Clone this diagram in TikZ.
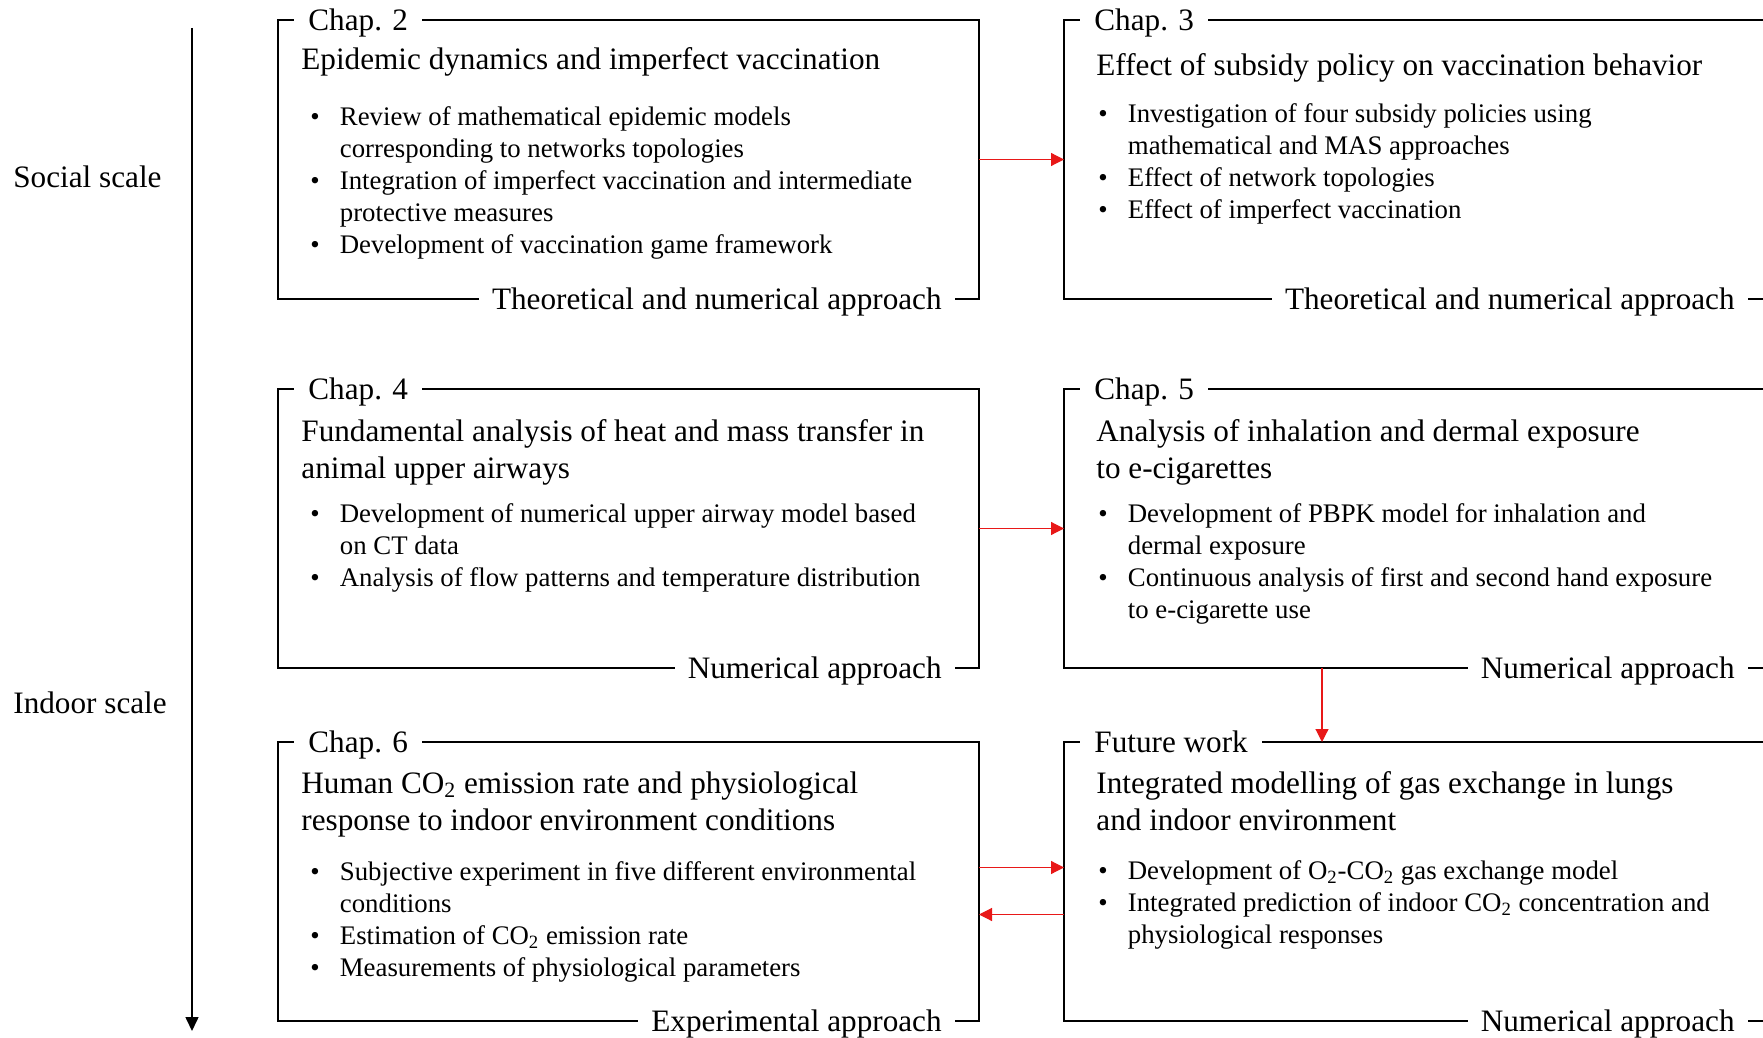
\documentclass[tikz,border=0pt]{standalone}
\usepackage{fontspec}
\setmainfont{Liberation Serif}
\usetikzlibrary{arrows.meta,positioning,calc}
\definecolor{LinkRed}{RGB}{232,24,24}

\newcommand{\bitem}{\makebox[14.75pt][l]{\textbullet}}
\newcommand{\bcont}{\hspace*{14.75pt}}

\tikzset{
  chapbox/.style={draw, line width=1pt, rectangle, anchor=north west,
    minimum height=139.5pt, inner sep=0pt, outer sep=0pt},
  chaplbl/.style={fill=white, inner xsep=7pt, inner ysep=1pt, anchor=west,
    text height=10.6pt, text depth=0pt, font=\fontsize{15.6}{18.5}\selectfont},
  applbl/.style={fill=white, inner xsep=6.5pt, inner ysep=1pt, anchor=east,
    text height=10.6pt, text depth=0pt, font=\fontsize{15.6}{18.5}\selectfont},
  boxtitle/.style={anchor=north west, inner sep=0pt, align=left,
    font=\fontsize{15.6}{18.5}\selectfont},
  bullets/.style={anchor=north west, inner sep=0pt, align=left,
    font=\fontsize{13.4}{16}\selectfont},
  scalelbl/.style={anchor=west, inner sep=0pt, font=\fontsize{15.6}{18.5}\selectfont},
  link/.style={LinkRed, line width=0.6pt, -{Triangle[length=6.5pt,width=6.5pt]}},
  axis/.style={line width=0.8pt, -{Triangle[length=7pt,width=6.5pt]}}
}

\begin{document}
\begin{tikzpicture}[x=0.5pt, y=-0.5pt]
  \path[use as bounding box, clip] (0,0) rectangle (1763,1038);

  % scale axis
  \coordinate (axtop) at (192,28);
  \coordinate (axbot) at (192,1031);
  \draw[axis] (axtop) -- (axbot);
  \node[scalelbl] (social) at (13,177) {Social scale};
  \node[scalelbl] (indoor) at (13,703) {Indoor scale};

  % boxes
  \node[chapbox, minimum width=350.5pt] (ch2) at (278,20) {};
  \node[chapbox, minimum width=354pt] (ch3) at (1064,20) {};
  \node[chapbox, minimum width=350.5pt] (ch4) at (278,389) {};
  \node[chapbox, minimum width=354pt] (ch5) at (1064,389) {};
  \node[chapbox, minimum width=350.5pt] (ch6) at (278,742) {};
  \node[chapbox, minimum width=354pt] (fut) at (1064,742) {};

  % labels on the frames
  \node[chaplbl] (ch2lbl) at ([xshift=8pt]ch2.north west) {Chap. 2};
  \node[chaplbl] (ch3lbl) at ([xshift=8pt]ch3.north west) {Chap. 3};
  \node[chaplbl] (ch4lbl) at ([xshift=8pt]ch4.north west) {Chap. 4};
  \node[chaplbl] (ch5lbl) at ([xshift=8pt]ch5.north west) {Chap. 5};
  \node[chaplbl] (ch6lbl) at ([xshift=8pt]ch6.north west) {Chap. 6};
  \node[chaplbl] (futlbl) at ([xshift=8pt]fut.north west) {Future work};

  \node[applbl] (ch2app) at ([xshift=-12pt]ch2.south east) {Theoretical and numerical approach};
  \node[applbl] (ch3app) at ([xshift=-12pt]ch3.south east) {Theoretical and numerical approach};
  \node[applbl] (ch4app) at ([xshift=-12pt]ch4.south east) {Numerical approach};
  \node[applbl] (ch5app) at ([xshift=-12pt]ch5.south east) {Numerical approach};
  \node[applbl] (ch6app) at ([xshift=-12pt]ch6.south east) {Experimental approach};
  \node[applbl] (futapp) at ([xshift=-12pt]fut.south east) {Numerical approach};

  % Chap. 2
  \node[boxtitle] (ch2title) at (301,47) {Epidemic dynamics and imperfect vaccination};
  \node[bullets] (ch2list) at (310,106) {\bitem Review of mathematical epidemic models\\
    \bcont corresponding to networks topologies\\
    \bitem Integration of imperfect vaccination and intermediate\\
    \bcont protective measures\\
    \bitem Development of vaccination game framework};

  % Chap. 3
  \node[boxtitle] (ch3title) at (1096,53) {Effect of subsidy policy on vaccination behavior};
  \node[bullets] (ch3list) at (1098,103) {\bitem Investigation of four subsidy policies using\\
    \bcont mathematical and MAS approaches\\
    \bitem Effect of network topologies\\
    \bitem Effect of imperfect vaccination};

  % Chap. 4
  \node[boxtitle] (ch4title) at (301,419) {Fundamental analysis of heat and mass transfer in\\animal upper airways};
  \node[bullets] (ch4list) at (310,503) {\bitem Development of numerical upper airway model based\\
    \bcont on CT data\\
    \bitem Analysis of flow patterns and temperature distribution};

  % Chap. 5
  \node[boxtitle] (ch5title) at (1096,419) {Analysis of inhalation and dermal exposure\\to e-cigarettes};
  \node[bullets] (ch5list) at (1098,503) {\bitem Development of PBPK model for inhalation and\\
    \bcont dermal exposure\\
    \bitem Continuous analysis of first and second hand exposure\\
    \bcont to e-cigarette use};

  % Chap. 6
  \node[boxtitle] (ch6title) at (301,771) {Human CO\textsubscript{2} emission rate and physiological\\response to indoor environment conditions};
  \node[bullets] (ch6list) at (310,861) {\bitem Subjective experiment in five different environmental\\
    \bcont conditions\\
    \bitem Estimation of CO\textsubscript{2} emission rate\\
    \bitem Measurements of physiological parameters};

  % Future work
  \node[boxtitle] (futtitle) at (1096,771) {Integrated modelling of gas exchange in lungs\\and indoor environment};
  \node[bullets] (futlist) at (1098,860) {\bitem Development of O\textsubscript{2}-CO\textsubscript{2} gas exchange model\\
    \bitem Integrated prediction of indoor CO\textsubscript{2} concentration and\\
    \bcont physiological responses};

  % links
  \draw[link] (ch2) -- (ch3);
  \draw[link] (ch4) -- (ch5);
  \draw[link] ([xshift=129pt]ch5.south west) -- ([xshift=129pt]fut.north west);
  \draw[link] ([yshift=7pt]ch6.east) -- ([yshift=7pt]fut.west);
  \draw[link] ([yshift=-16.5pt]fut.west) -- ([yshift=-16.5pt]ch6.east);
\end{tikzpicture}
\end{document}
